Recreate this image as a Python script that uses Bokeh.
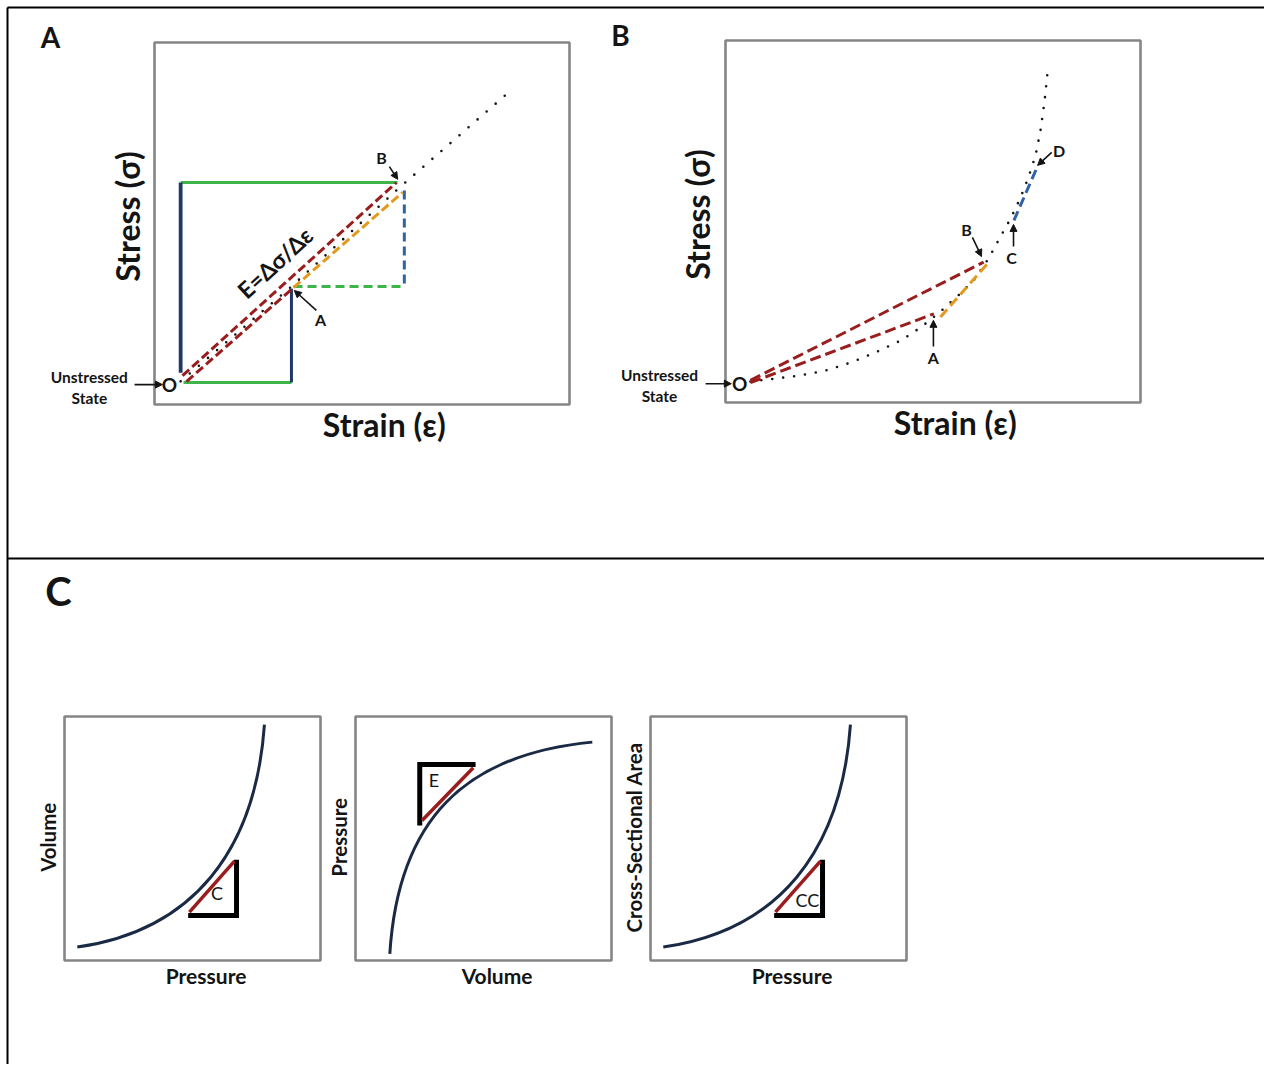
import math
from bokeh.plotting import figure
from bokeh.models import Range1d, Arrow, NormalHead
from bokeh.core.properties import value
from bokeh.embed import file_html
from bokeh.resources import INLINE

# ---------------------------------------------------------------- data
# All panel values are in percent of each panel's plot frame (0-100).

# Panel A - linear material
a_curve_strain = [6.3, 33.3, 59.0, 85.8]
a_curve_stress = [6.4, 32.9, 59.9, 86.7]
a_secant_ob_strain = [6.75, 58.3]
a_secant_ob_stress = [8.0, 61.3]
a_secant_oa_strain = [7.7, 33.5]
a_secant_oa_stress = [6.35, 32.3]
a_tangent_ab_strain = [33.5, 59.8]
a_tangent_ab_stress = [32.3, 58.6]
a_run_ob_strain = [6.3, 58.55]
a_run_ob_stress = [61.3, 61.3]
a_rise_ob_strain = [6.3, 6.3]
a_rise_ob_stress = [61.3, 8.8]
a_run_oa_strain = [7.0, 33.0]
a_run_oa_stress = [6.1, 6.1]
a_rise_oa_strain = [33.0, 33.0]
a_rise_oa_stress = [32.0, 6.1]
a_run_ab_strain = [33.5, 60.2]
a_run_ab_stress = [32.6, 32.6]
a_rise_ab_strain = [60.2, 60.2]
a_rise_ab_stress = [59.1, 32.6]
a_point_labels = ["A", "B"]
a_point_label_strain = [40.0, 54.7]
a_point_label_stress = [23.5, 68.2]
a_arrow_from_strain = [39.0, 56.6, -4.8]
a_arrow_from_stress = [26.0, 65.7, 5.5]
a_arrow_to_strain = [33.7, 58.6, 1.9]
a_arrow_to_stress = [31.5, 62.2, 5.5]

# Panel B - non-linear material
b_curve_strain = [6.0, 12.0, 18.1, 24.1, 30.1, 36.1, 42.2, 47.0, 51.8, 56.6,
                  60.2, 63.4, 66.3, 68.7, 71.1, 73.0, 74.7, 75.9, 76.9, 77.6]
b_curve_stress = [5.8, 6.6, 7.5, 8.8, 11.0, 13.8, 17.1, 20.7, 25.1, 30.1,
                  34.3, 39.8, 45.9, 50.8, 56.6, 62.2, 68.2, 75.1, 83.4, 91.2]
b_secant_ob_strain = [6.0, 62.2]
b_secant_ob_stress = [6.1, 38.8]
b_secant_oa_strain = [6.0, 50.2]
b_secant_oa_stress = [5.5, 24.5]
b_tangent_ab_strain = [51.8, 63.1]
b_tangent_ab_stress = [23.6, 38.3]
b_tangent_cd_strain = [69.5, 75.1]
b_tangent_cd_stress = [50.3, 65.0]
b_point_labels = ["A", "B", "C", "D"]
b_point_label_strain = [50.1, 58.1, 68.9, 80.4]
b_point_label_stress = [12.4, 47.8, 40.1, 69.6]
b_arrow_from_strain = [50.1, 59.5, 69.4, 78.6, -4.8]
b_arrow_from_stress = [15.5, 45.6, 43.1, 69.1, 5.2]
b_arrow_to_strain = [50.1, 61.7, 69.4, 75.2, 1.4]
b_arrow_to_stress = [22.7, 40.3, 49.2, 65.5, 5.2]

# Panel C - compliance (C), elastance (E), cross-sectional compliance (CC)
# curves as cubic Bezier: start, control 1, control 2, end
c1_curve_x = [5.0, 50.0, 74.6, 78.1]
c1_curve_y = [5.5, 12.3, 44.7, 96.7]
c1_legs_x = [48.3, 67.2, 67.2]
c1_legs_y = [18.4, 18.4, 41.3]
c1_hyp_x = [48.8, 66.4]
c1_hyp_y = [19.8, 40.7]

c2_curve_x = [13.4, 16.7, 42.5, 92.5]
c2_curve_y = [2.7, 57.7, 84.5, 89.5]
c2_legs_x = [46.9, 25.1, 25.1]
c2_legs_y = [80.3, 80.3, 55.3]
c2_hyp_x = [26.0, 46.0]
c2_hyp_y = [57.4, 79.0]

c3_curve_x = [5.0, 50.0, 74.6, 78.1]
c3_curve_y = [5.5, 12.3, 44.7, 96.7]
c3_legs_x = [48.3, 67.2, 67.2]
c3_legs_y = [18.4, 18.4, 41.3]
c3_hyp_x = [48.8, 66.4]
c3_hyp_y = [19.8, 40.7]

c_small_labels = ["C", "E", "CC"]
c_small_label_x = [59.6, 30.6, 61.3]
c_small_label_y = [27.6, 73.8, 25.0]

# ---------------------------------------------------------------- layout
W, H = 1264, 1064
FONT = "Lato"
INK = "#141414"
RED = "#9a1d1d"
ORANGE = "#e39a1c"
GREEN = "#3db54a"
NAVY = "#1f3866"
BLUE = "#2f62a6"
CURVE = "#1a2a45"
GRAY = "#858585"

p = figure(width=W, height=H, output_backend="svg", toolbar_location=None,
           x_range=Range1d(0, W), y_range=Range1d(0, H),
           x_axis_type=None, y_axis_type=None, min_border=0,
           outline_line_color=None, background_fill_color="white")


def px(x):
    return x


def py(y):
    return H - y


def panel(name, left, top, right, bottom):
    fx0, fx1 = px(left), px(right)
    fy0, fy1 = py(bottom), py(top)
    kx = (fx1 - fx0) / 100.0
    ky = (fy1 - fy0) / 100.0
    xs = -fx0 / kx
    ys = -fy0 / ky
    p.extra_x_ranges = {**p.extra_x_ranges, name: Range1d(xs, xs + W / kx)}
    p.extra_y_ranges = {**p.extra_y_ranges, name: Range1d(ys, ys + H / ky)}
    r = dict(x_range_name=name, y_range_name=name)
    p.quad(left=[0], right=[100], bottom=[0], top=[100], fill_color=None,
           line_color=GRAY, line_width=2.6, **r)
    return r


def txt(r, xs, ys, texts, size, bold=True, angle=0.0, color=INK):
    p.text(x=xs, y=ys, text=texts, text_font=value(FONT),
           text_font_size=f"{size}px",
           text_font_style="bold" if bold else "normal",
           text_align="center", text_baseline="middle", angle=angle,
           text_color=color, **r)


def arrows(r, x0, y0, x1, y1):
    for a, b, c, d in zip(x0, y0, x1, y1):
        p.add_layout(Arrow(end=NormalHead(size=7, fill_color=INK, line_color=INK,
                                          line_width=1),
                           x_start=a, y_start=b, x_end=c, y_end=d,
                           line_color=INK, line_width=1.6, **r))


# outer frame lines (page coordinates)
p.line(x=[px(7), px(7)], y=[py(7), 0], line_color="black", line_width=2)
p.line(x=[px(7), W], y=[py(7), py(7)], line_color="black", line_width=2)
p.line(x=[px(7), W], y=[py(558), py(558)], line_color="black", line_width=2)

main = {}
txt(main, [px(50), px(620)], [py(36), py(34)], ["A", "B"], 28)
txt(main, [px(58)], [py(590)], ["C"], 40)

# ---------------------------------------------------------------- panel A
ra = panel("A", 154, 42, 569, 404)
p.line(a_curve_strain, a_curve_stress, line_color=INK, line_width=2.6,
       line_dash="0 12", line_cap="round", **ra)
p.line(a_run_ob_strain, a_run_ob_stress, line_color=GREEN, line_width=3, **ra)
p.line(a_run_oa_strain, a_run_oa_stress, line_color=GREEN, line_width=3, **ra)
p.line(a_rise_ob_strain, a_rise_ob_stress, line_color=NAVY, line_width=3.8, **ra)
p.line(a_rise_oa_strain, a_rise_oa_stress, line_color=NAVY, line_width=3, **ra)
p.line(a_run_ab_strain, a_run_ab_stress, line_color=GREEN, line_width=3,
       line_dash="9 5", **ra)
p.line(a_rise_ab_strain, a_rise_ab_stress, line_color=BLUE, line_width=3,
       line_dash="9 5", **ra)
p.line(a_secant_ob_strain, a_secant_ob_stress, line_color=RED, line_width=3,
       line_dash="9 4", **ra)
p.line(a_secant_oa_strain, a_secant_oa_stress, line_color=RED, line_width=3,
       line_dash="9 4", **ra)
p.line(a_tangent_ab_strain, a_tangent_ab_stress, line_color=ORANGE, line_width=3,
       line_dash="9 4", **ra)
txt(ra, [-6.5], [51.7], ["Stress (σ)"], 32, angle=math.pi / 2)
txt(ra, [55.2], [-5.5], ["Strain (ε)"], 32)
txt(ra, [29.0], [39.2], ["E=Δσ/Δε"], 23, angle=math.radians(42.5))
txt(ra, [3.6], [5.5], ["O"], 19)
txt(ra, [-15.7, -15.7], [7.5, 1.9], ["Unstressed", "State"], 15.5)
txt(ra, a_point_label_strain, a_point_label_stress, a_point_labels, 16)
arrows(ra, a_arrow_from_strain, a_arrow_from_stress, a_arrow_to_strain, a_arrow_to_stress)

# ---------------------------------------------------------------- panel B
rb = panel("B", 725, 40, 1140, 402)
p.line(b_curve_strain, b_curve_stress, line_color=INK, line_width=2.6,
       line_dash="0 11", line_cap="round", **rb)
p.line(b_secant_ob_strain, b_secant_ob_stress, line_color=RED, line_width=3,
       line_dash="11 5", **rb)
p.line(b_secant_oa_strain, b_secant_oa_stress, line_color=RED, line_width=3,
       line_dash="11 5", **rb)
p.line(b_tangent_ab_strain, b_tangent_ab_stress, line_color=ORANGE, line_width=3,
       line_dash="10 5", **rb)
p.line(b_tangent_cd_strain, b_tangent_cd_stress, line_color=BLUE, line_width=3,
       line_dash="10 5", **rb)
txt(rb, [-6.7], [51.7], ["Stress (σ)"], 32, angle=math.pi / 2)
txt(rb, [55.2], [-5.5], ["Strain (ε)"], 32)
txt(rb, [3.4], [5.2], ["O"], 19)
txt(rb, [-15.9, -15.9], [7.5, 1.9], ["Unstressed", "State"], 15.5)
txt(rb, b_point_label_strain, b_point_label_stress, b_point_labels, 16)
arrows(rb, b_arrow_from_strain, b_arrow_from_stress, b_arrow_to_strain, b_arrow_to_stress)

# ---------------------------------------------------------------- panel C
for name, left, cx, cy, lx, ly, hx, hy, ylab, xlab, k in [
        ("C1", 64, c1_curve_x, c1_curve_y, c1_legs_x, c1_legs_y, c1_hyp_x, c1_hyp_y,
         "Volume", "Pressure", 0),
        ("C2", 355, c2_curve_x, c2_curve_y, c2_legs_x, c2_legs_y, c2_hyp_x, c2_hyp_y,
         "Pressure", "Volume", 1),
        ("C3", 650, c3_curve_x, c3_curve_y, c3_legs_x, c3_legs_y, c3_hyp_x, c3_hyp_y,
         "Cross-Sectional Area", "Pressure", 2)]:
    rc = panel(name, left, 716, left + 256, 960)
    p.bezier(x0=[cx[0]], y0=[cy[0]], cx0=[cx[1]], cy0=[cy[1]],
             cx1=[cx[2]], cy1=[cy[2]], x1=[cx[3]], y1=[cy[3]],
             line_color=CURVE, line_width=3, **rc)
    p.line(lx, ly, line_color="black", line_width=5, line_join="miter", **rc)
    p.line(hx, hy, line_color=RED, line_width=3.5, **rc)
    txt(rc, [c_small_label_x[k]], [c_small_label_y[k]], [c_small_labels[k]], 18,
        bold=False)
    txt(rc, [-6.5], [50.5], [ylab], 20.5, angle=math.pi / 2)
    txt(rc, [55.3], [-6.3], [xlab], 21)

open("out.html", "w").write(file_html(p, INLINE))
